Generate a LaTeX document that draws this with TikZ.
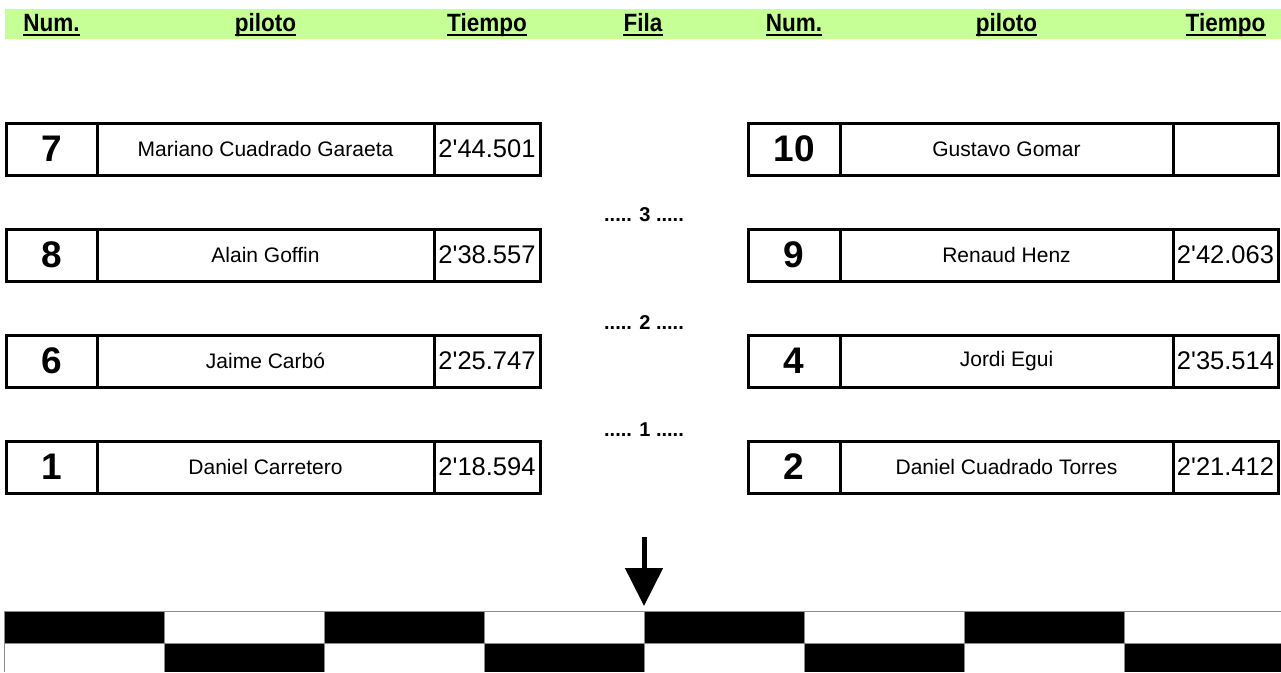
\documentclass[tikz,border=0pt]{standalone}
\usepackage{fontspec}
\setmainfont{Liberation Sans}
\newfontfamily\hdrfont[FakeStretch=0.9]{Liberation Sans}
\usetikzlibrary{arrows.meta}
\definecolor{hdrgreen}{RGB}{198,255,150}
\definecolor{sepgray}{RGB}{140,140,140}
\begin{document}
\begin{tikzpicture}[x=1pt,y=-1pt,
  cell/.style={draw,line width=3pt,minimum height=52pt,inner sep=0pt,anchor=center},
  numcell/.style={cell,font=\fontsize{37}{37}\selectfont\bfseries},
  namecell/.style={cell,font=\fontsize{21}{21}\selectfont},
  timecell/.style={cell,font=\fontsize{25.5}{25.5}\selectfont},
  hdr/.style={inner sep=0pt,anchor=base,font=\hdrfont\fontsize{25}{25}\selectfont\bfseries},
  filalbl/.style={inner sep=0pt,font=\fontsize{20}{20}\selectfont\bfseries},
  uline/.style={line width=2pt}]
\useasboundingbox (0,0) rectangle (1281,672);
% header band
\fill[hdrgreen] (5,9) rectangle (1281,39);
\foreach \nm/\x/\t in {h1/51.5/Num., h2/265.5/piloto, h3/487/Tiempo, h4/643/Fila, h5/794/Num., h6/1006.5/piloto, h7/1225.5/Tiempo}{
  \node[hdr] (\nm) at (\x,31.5) {\t};
  \draw[uline] ([yshift=-3pt]\nm.base west) -- ([yshift=-3pt]\nm.base east);
}
% rows
\foreach \r/\y/\ln/\lp/\lt/\rn/\rp/\rt in {
  a/149/7/Mariano Cuadrado Garaeta/2\textquotesingle 44.501/10/Gustavo Gomar/{},
  b/255/8/Alain Goffin/2\textquotesingle 38.557/9/Renaud Henz/2\textquotesingle 42.063,
  c/361/6/Jaime Carbó/2\textquotesingle 25.747/4/Jordi Egui/2\textquotesingle 35.514,
  d/467/1/Daniel Carretero/2\textquotesingle 18.594/2/Daniel Cuadrado Torres/2\textquotesingle 21.412}{
  \node[numcell,minimum width=91pt] (ln\r) at (51.5,\y) {\ln};
  \node[namecell,minimum width=337pt] (lp\r) at (265.5,\y) {\lp};
  \node[timecell,minimum width=106pt] (lt\r) at (487,\y) {\lt};
  \node[numcell,minimum width=92pt] (rn\r) at (794,\y) {\rn};
  \node[namecell,minimum width=333pt] (rp\r) at (1006.5,\y) {\rp};
  \node[timecell,minimum width=105pt] (rt\r) at (1225.5,\y) {\rt};
}
% fila labels
\node[filalbl] (f3) at (644,215) {..... 3 .....};
\node[filalbl] (f2) at (644,323) {..... 2 .....};
\node[filalbl] (f1) at (644,430) {..... 1 .....};
% arrow
\coordinate (atop) at (644,537);
\coordinate (atip) at (644,606);
\draw[line width=5pt,-{Triangle[width=37pt,length=38pt]}] (atop) -- (atip);
% checkered flag
\foreach \i in {0,...,7}{
  \pgfmathsetmacro{\xa}{4+160*\i}
  \pgfmathsetmacro{\xb}{4+160*(\i+1)}
  \ifodd\i
    \fill[black] (\xa,643) rectangle (\xb,672);
  \else
    \fill[black] (\xa,611) rectangle (\xb,643);
  \fi
}
\draw[sepgray,line width=1pt] (4,611) -- (1281,611);
\draw[sepgray,line width=1pt] (4,643) -- (1281,643);
\foreach \i in {0,...,7}{
  \draw[sepgray,line width=1pt] (4+160*\i,611) -- (4+160*\i,672);
}
\end{tikzpicture}
\end{document}
